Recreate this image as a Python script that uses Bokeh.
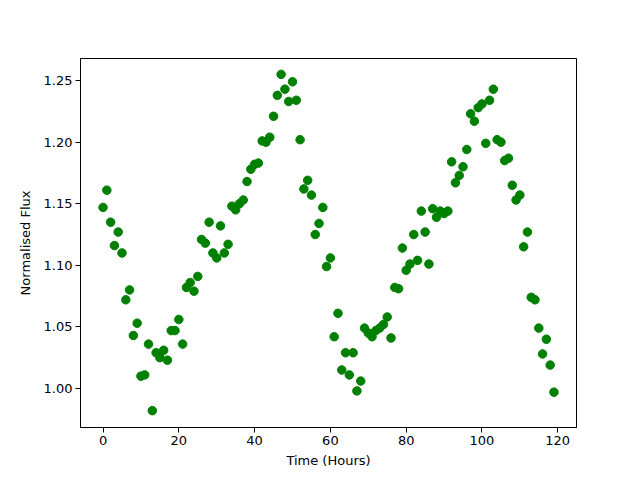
from bokeh.plotting import figure
from bokeh.models import Range1d, FixedTicker, PrintfTickFormatter
from bokeh.embed import file_html
from bokeh.resources import INLINE

hours = list(range(120))
flux = [
    1.147, 1.161, 1.135, 1.116, 1.127, 1.110, 1.072, 1.080, 1.043, 1.053,
    1.010, 1.011, 1.036, 0.982, 1.029, 1.025, 1.031, 1.023, 1.047, 1.047,
    1.056, 1.036, 1.082, 1.086, 1.079, 1.091, 1.121, 1.118, 1.135, 1.110,
    1.106, 1.132, 1.110, 1.117, 1.148, 1.145, 1.150, 1.153, 1.168, 1.178,
    1.182, 1.183, 1.201, 1.200, 1.204, 1.221, 1.238, 1.255, 1.243, 1.233,
    1.249, 1.234, 1.202, 1.162, 1.169, 1.157, 1.125, 1.134, 1.147, 1.099,
    1.106, 1.042, 1.061, 1.015, 1.029, 1.011, 1.029, 0.998, 1.006, 1.049,
    1.045, 1.042, 1.047, 1.049, 1.052, 1.058, 1.041, 1.082, 1.081, 1.114,
    1.096, 1.101, 1.125, 1.104, 1.144, 1.127, 1.101, 1.146, 1.139, 1.144,
    1.142, 1.144, 1.184, 1.167, 1.173, 1.180, 1.194, 1.223, 1.217, 1.228,
    1.231, 1.199, 1.234, 1.243, 1.202, 1.200, 1.185, 1.187, 1.165, 1.153,
    1.157, 1.115, 1.127, 1.074, 1.072, 1.049, 1.028, 1.040, 1.019, 0.997,
]
x_ticks = [0, 20, 40, 60, 80, 100, 120]
y_ticks = [1.00, 1.05, 1.10, 1.15, 1.20, 1.25]

p = figure(
    output_backend="svg", toolbar_location=None,
    frame_width=496, frame_height=369,
    min_border_left=80, min_border_right=44, min_border_top=58, min_border_bottom=44,
    x_range=Range1d(-5.95, 124.95), y_range=Range1d(0.9683, 1.2679),
)
p.scatter(hours, flux, size=8.5, color="#008000", line_color="#008000")

p.xgrid.visible = False
p.ygrid.visible = False
p.outline_line_color = "black"
p.outline_line_width = 1
p.background_fill_color = "white"
p.border_fill_color = "white"

p.xaxis.ticker = FixedTicker(ticks=x_ticks)
p.yaxis.ticker = FixedTicker(ticks=y_ticks)
p.yaxis.formatter = PrintfTickFormatter(format="%.2f")
p.xaxis.axis_label = "Time (Hours)"
p.yaxis.axis_label = "Normalised Flux"
for ax in (p.xaxis, p.yaxis):
    ax.major_tick_in = 0
    ax.major_tick_out = 5
    ax.minor_tick_line_color = None
    ax.axis_line_color = "black"
    ax.major_tick_line_color = "black"
    ax.major_label_text_font = "DejaVu Sans"
    ax.major_label_text_font_size = "13px"
    ax.major_label_text_color = "black"
    ax.axis_label_text_font = "DejaVu Sans"
    ax.axis_label_text_font_size = "13px"
    ax.axis_label_text_font_style = "normal"
    ax.axis_label_text_color = "black"
    ax.major_label_standoff = 3
p.xaxis.axis_label_standoff = 5
p.yaxis.axis_label_standoff = 8

open("out.html", "w").write(file_html(p, INLINE))
